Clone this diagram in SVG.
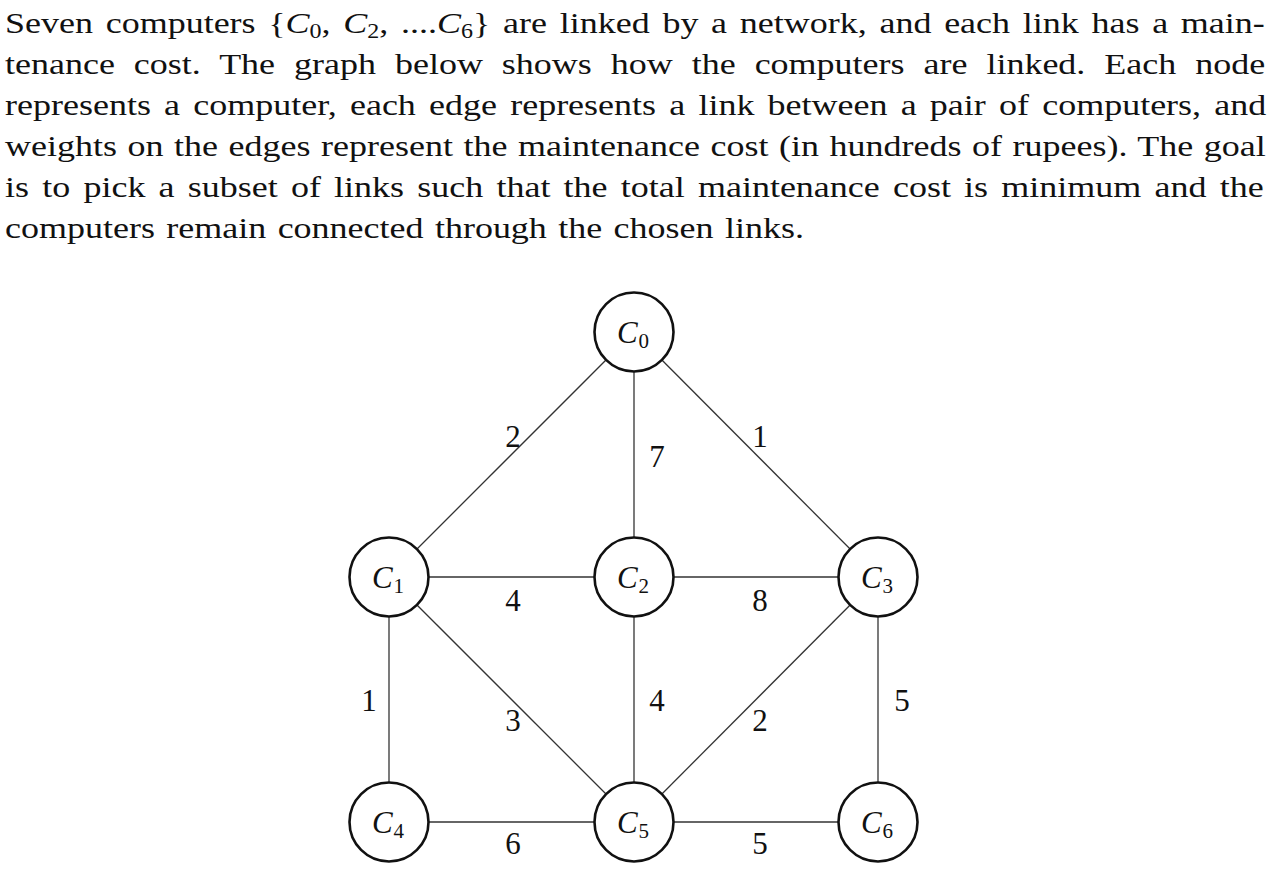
<svg xmlns="http://www.w3.org/2000/svg" width="1280" height="890" viewBox="0 0 1280 890">
<defs>
<style>
text{font-family:'Liberation Serif','DejaVu Serif','Times New Roman',Times,serif}
.p{font-size:30px;fill:#111}
.m{font-style:italic}
.edge{stroke:#333;stroke-width:1.3;fill:none}
.node{fill:#fff;stroke:#111;stroke-width:2.6}
.nl{font-size:31px;fill:#111;text-anchor:middle}
.w{font-size:31px;fill:#111;text-anchor:middle}
</style>
</defs>
<rect width="1280" height="890" fill="#fff"/>
<g id="paragraph" transform="scale(1.2 1)">
<text class="p" x="4.2" y="33" word-spacing="3.1">Seven computers {<tspan class="m">C</tspan><tspan font-size="20" dy="5">0</tspan><tspan dy="-5">, </tspan><tspan class="m">C</tspan><tspan font-size="20" dy="5">2</tspan><tspan dy="-5">, ....</tspan><tspan class="m">C</tspan><tspan font-size="20" dy="5">6</tspan><tspan dy="-5">} are linked by a network, and each link has a main-</tspan></text>
<text class="p" x="4.2" y="74" word-spacing="8.3">tenance cost. The graph below shows how the computers are linked. Each node</text>
<text class="p" x="4.2" y="115" word-spacing="3.5">represents a computer, each edge represents a link between a pair of computers, and</text>
<text class="p" x="4.2" y="156" word-spacing="1.3">weights on the edges represent the maintenance cost (in hundreds of rupees). The goal</text>
<text class="p" x="4.2" y="197" word-spacing="3.5">is to pick a subset of links such that the total maintenance cost is minimum and the</text>
<text class="p" x="4.2" y="238" word-spacing="2">computers remain connected through the chosen links.</text>
</g>
<g id="connectors">
<line class="edge" x1="634" y1="332" x2="389" y2="577"/>
<line class="edge" x1="634" y1="332" x2="634" y2="577"/>
<line class="edge" x1="634" y1="332" x2="878" y2="577"/>
<line class="edge" x1="389" y1="577" x2="634" y2="577"/>
<line class="edge" x1="634" y1="577" x2="878" y2="577"/>
<line class="edge" x1="389" y1="577" x2="389" y2="822"/>
<line class="edge" x1="389" y1="577" x2="634" y2="822"/>
<line class="edge" x1="634" y1="577" x2="634" y2="822"/>
<line class="edge" x1="878" y1="577" x2="634" y2="822"/>
<line class="edge" x1="878" y1="577" x2="878" y2="822"/>
<line class="edge" x1="389" y1="822" x2="634" y2="822"/>
<line class="edge" x1="634" y1="822" x2="878" y2="822"/>
<text class="w" x="513" y="447">2</text>
<text class="w" x="657" y="467">7</text>
<text class="w" x="760" y="447">1</text>
<text class="w" x="513" y="611">4</text>
<text class="w" x="760" y="611">8</text>
<text class="w" x="369" y="711">1</text>
<text class="w" x="513" y="731">3</text>
<text class="w" x="657" y="711">4</text>
<text class="w" x="760" y="731">2</text>
<text class="w" x="902" y="711">5</text>
<text class="w" x="513" y="854">6</text>
<text class="w" x="760" y="854">5</text>
</g>
<g id="C0"><circle class="node" cx="634" cy="332" r="39.5"/><text class="nl" x="633" y="343"><tspan class="m">C</tspan><tspan font-size="21" dy="5" dx="1">0</tspan></text></g>
<g id="C1"><circle class="node" cx="389" cy="577" r="39.5"/><text class="nl" x="388" y="588"><tspan class="m">C</tspan><tspan font-size="21" dy="5" dx="1">1</tspan></text></g>
<g id="C2"><circle class="node" cx="634" cy="577" r="39.5"/><text class="nl" x="633" y="588"><tspan class="m">C</tspan><tspan font-size="21" dy="5" dx="1">2</tspan></text></g>
<g id="C3"><circle class="node" cx="878" cy="577" r="39.5"/><text class="nl" x="877" y="588"><tspan class="m">C</tspan><tspan font-size="21" dy="5" dx="1">3</tspan></text></g>
<g id="C4"><circle class="node" cx="389" cy="822" r="39.5"/><text class="nl" x="388" y="833"><tspan class="m">C</tspan><tspan font-size="21" dy="5" dx="1">4</tspan></text></g>
<g id="C5"><circle class="node" cx="634" cy="822" r="39.5"/><text class="nl" x="633" y="833"><tspan class="m">C</tspan><tspan font-size="21" dy="5" dx="1">5</tspan></text></g>
<g id="C6"><circle class="node" cx="878" cy="822" r="39.5"/><text class="nl" x="877" y="833"><tspan class="m">C</tspan><tspan font-size="21" dy="5" dx="1">6</tspan></text></g>
</svg>
